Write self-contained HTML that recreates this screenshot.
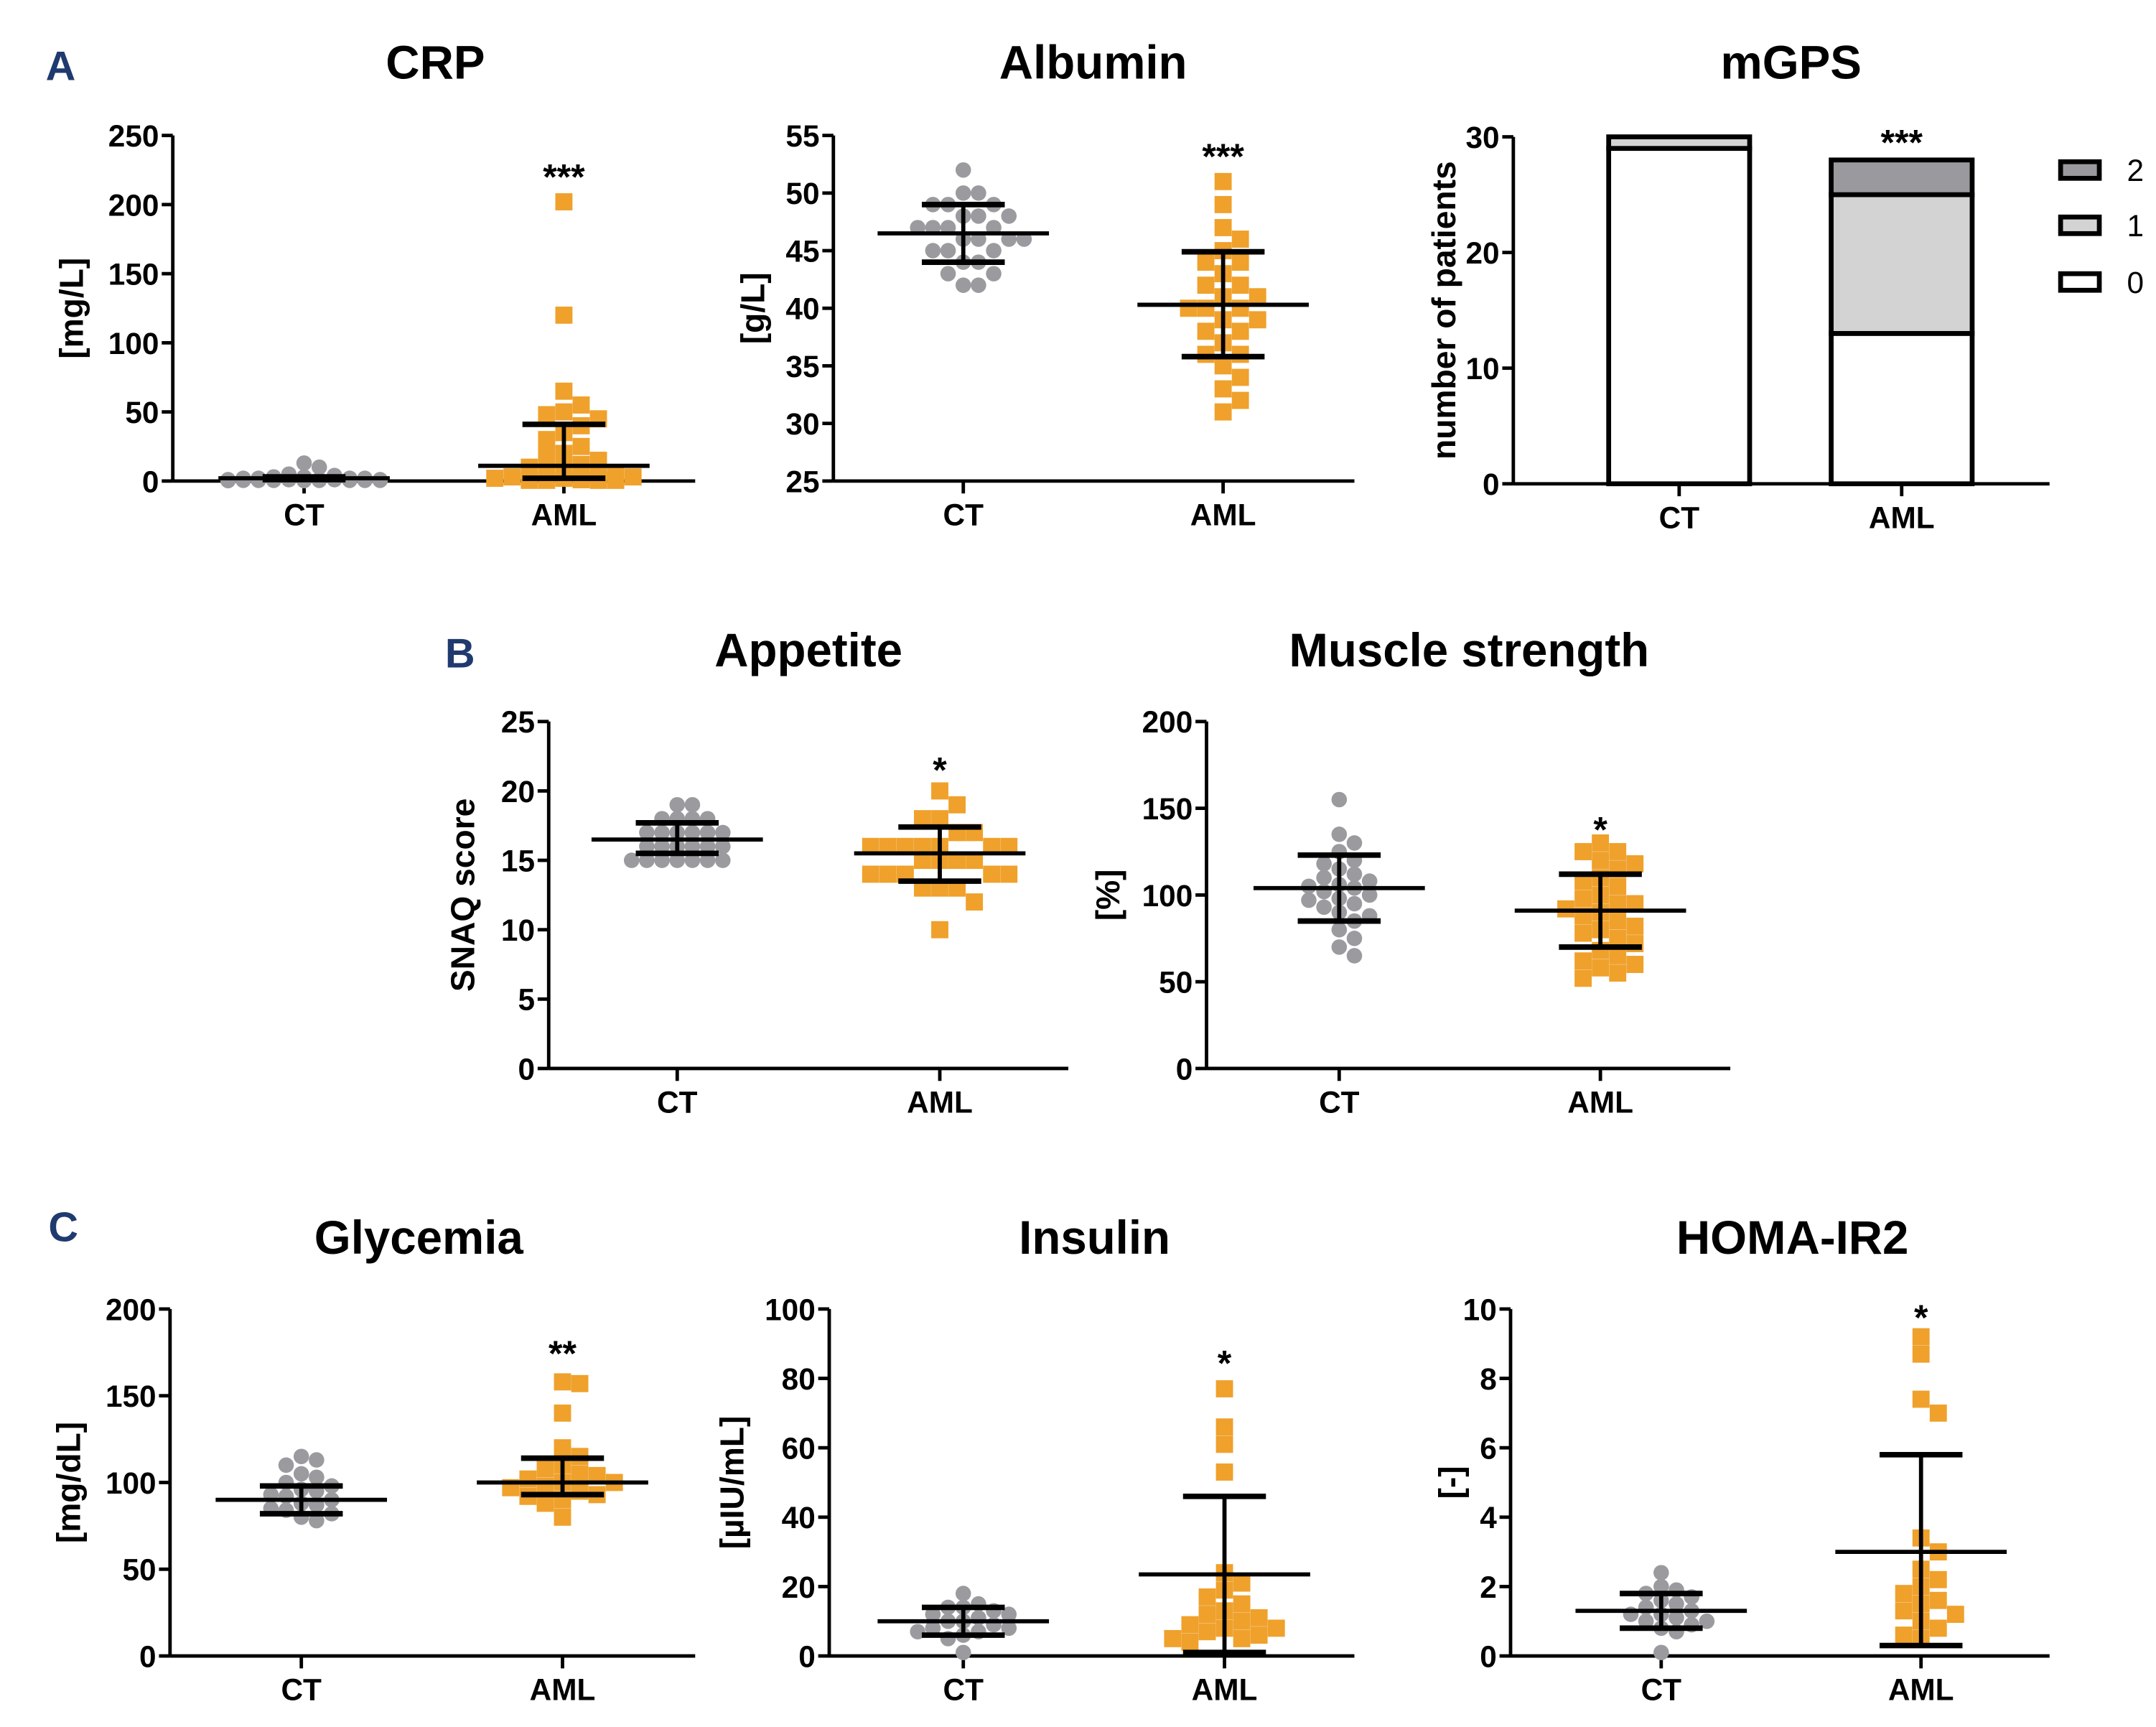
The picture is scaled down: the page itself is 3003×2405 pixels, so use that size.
<!DOCTYPE html>
<html><head><meta charset="utf-8">
<style>
html,body{margin:0;padding:0;background:#fff;}
svg{display:block;font-family:"Liberation Sans",Arial,sans-serif;}
</style></head>
<body>
<svg id="fig" width="3003" height="2405" viewBox="0 0 1560 1249.4" xmlns="http://www.w3.org/2000/svg"></svg>
<script>
// ---- data ----
const categories = ["CT", "AML"];
const crpCT = [13,10,5,4,3,3,2,2,2,2,1,1,1,1,1,1,0.5,0.5,0.5,0.5,0.5,0.5,0.5,0.3,0.3];
const crpAML = [202,120,65,55,50,48,45,40,35,30,25,20,18,15,12,10,8,5,5,4,3,3,2,2,1,1,0.5,0.5,0.5,0.5];
const crpBars = [[2,1,3],[11,2,41]];
const albCT = [52,50,50,49,49,49,48,48,48,47,47,47,47,46,46,46,46,45,45,45,44,44,43,43,42,42];
const albAML = [51,49,47,46,45,44,44,43,42,42,41,41,40,40,40,39,39,38,38,37,36,36,35,34,33,32,31];
const albBars = [[46.5,44,49],[40.3,35.8,44.9]];
const mgpsScores = ["0","1","2"];
const mgpsCT = [29,1,0];
const mgpsAML = [13,12,3];
const appCT = [19,19,18,18,18,18,17,17,17,17,17,17,16,16,16,16,16,16,15,15,15,15,15,15,15];
const appAML = [20,19,18,18,17,17,16,16,16,16,16,16,16,15,15,15,15,15,14,14,14,14,14,13,13,13,12,10];
const appBars = [[16.5,15.5,17.7],[15.5,13.5,17.4]];
const musCT = [155,135,130,125,120,118,115,112,110,108,106,105,104,102,100,98,97,95,93,90,88,85,80,75,70,65];
const musAML = [130,125,125,120,118,115,110,108,105,100,98,95,95,92,90,88,85,82,80,78,75,72,68,65,62,60,58,55,52];
const musBars = [[104,85,123],[91,70,112]];
const gluCT = [115,113,110,105,103,100,98,96,95,93,92,90,88,87,85,84,82,80,78];
const gluAML = [158,157,140,120,115,110,108,105,104,102,100,100,98,97,95,93,92,90,88,80];
const gluBars = [[90,82,98],[100,93,114]];
const insCT = [18,15,14,14,13,12,12,11,10,10,9,8,8,7,7,6,5,1];
const insAML = [77,66,61,53,24,21,19,17,15,13,12,11,10,9,8,8,7,6,5,5,4];
const insBars = [[10,6,14],[23.5,1,46]];
const homaCT = [2.4,2.0,1.9,1.8,1.7,1.6,1.5,1.4,1.3,1.2,1.2,1.1,1.0,1.0,0.9,0.8,0.7,0.1];
const homaAML = [9.2,8.7,7.4,7.0,3.4,3.0,2.5,2.2,2.0,1.8,1.6,1.5,1.3,1.2,1.0,0.8,0.6,0.5];
const homaBars = [[1.3,0.8,1.8],[3.0,0.3,5.8]];

// ---- drawing ----
const NS = "http://www.w3.org/2000/svg";
const svg = document.getElementById("fig");
function el(tag, attrs, parent, text){
  const e = document.createElementNS(NS, tag);
  for (const k in attrs) e.setAttribute(k, attrs[k]);
  if (text !== undefined) e.textContent = text;
  (parent || svg).appendChild(e);
  return e;
}
const ORANGE = "#efa12c", GRAY = "#9b9a9f";

function axes(p){
  const g = el("g", {});
  
  
  const y = v => p.y1 - (v - p.ymin) / (p.ymax - p.ymin) * (p.y1 - p.y0);
  const t = el("text", {x:p.tx, y:p.ty, "font-size":34, "font-weight":"bold", "text-anchor":"middle"}, g, p.title);
  
  
  const ya = el("line", {x1:p.ax, y1:p.y0, x2:p.ax, y2:p.y1, stroke:"#000", "stroke-width":2.5}, g);
  
  
  const xa = el("line", {x1:p.ax, y1:p.y1, x2:p.xend, y2:p.y1, stroke:"#000", "stroke-width":2.5}, g);
  
  
  for (let v = p.ymin; v <= p.ymax + 1e-9; v += p.step){
    const yy = y(v);
    el("line", {x1:p.ax-8, y1:yy, x2:p.ax, y2:yy, stroke:"#000", "stroke-width":2.5}, g);
    const tl = el("text", {x:p.ax-10, y:yy+8, "font-size":22, "font-weight":"bold", "text-anchor":"end"}, g, String(v));
    
    
  }
  p.cx.forEach((cx, i) => {
    el("line", {x1:cx, y1:p.y1, x2:cx, y2:p.y1+9, stroke:"#000", "stroke-width":2.5}, g);
    const cl = el("text", {x:cx, y:p.y1+32, "font-size":22, "font-weight":"bold", "text-anchor":"middle"}, g, categories[i]);
    
    
  });
  const yt = el("text", {x:0, y:0, "font-size":24, "font-weight":"bold", "text-anchor":"middle",
    transform:`translate(${p.ylx},${(p.y0+p.y1)/2}) rotate(-90)`}, g, p.ylabel);
  
  
  return {g, y};
}

function swarm(values, cx, y, size, maxSpread){
  const placed = [];
  const step = size * 1.0;
  const nMax = Math.floor(maxSpread / step);
  const cands = [0];
  for (let k = 1; k <= nMax; k++){ cands.push(k*step); cands.push(-k*step); }
  values.forEach(v => {
    const yy = y(v);
    let best = 0, bestCount = Infinity;
    for (const off of cands){
      const c = placed.filter(q => Math.abs(q[0]-(cx+off)) < size*0.95 && Math.abs(q[1]-yy) < size*0.85).length;
      if (c < bestCount){ bestCount = c; best = off; }
      if (c === 0) break;
    }
    placed.push([cx+best, yy]);
  });
  return placed;
}

function dotPlot(p, ct, aml, bars, star){
  const {g, y} = axes(p);
  swarm(ct, p.cx[0], y, 11, p.spread || 62).forEach(([x, yy]) => {
    const c = el("circle", {cx:x, cy:yy, r:5.6, fill:GRAY}, g);
    
    
  });
  swarm(aml, p.cx[1], y, 12.5, p.spread || 62).forEach(([x, yy]) => {
    const r = el("rect", {x:x-6.2, y:yy-6.2, width:12.4, height:12.4, fill:ORANGE}, g);
    
    
  });
  bars.forEach((b, i) => {
    const cx = p.cx[i];
    const eg = el("g", {stroke:"#000", "stroke-width":3}, g);
    
    
    el("line", {x1:cx-62, y1:y(b[0]), x2:cx+62, y2:y(b[0])}, eg);
    el("line", {x1:cx, y1:y(b[1]), x2:cx, y2:y(b[2])}, eg);
    el("line", {x1:cx-30, y1:y(b[1]), x2:cx+30, y2:y(b[1]), "stroke-width":4}, eg);
    el("line", {x1:cx-30, y1:y(b[2]), x2:cx+30, y2:y(b[2]), "stroke-width":4}, eg);
  });
  const s = el("text", {x:p.cx[1], y:p.starY, "font-size":26, "font-weight":"bold", "text-anchor":"middle"}, g, star);
  
  
}

function panelLetter(t, x, y){
  const e = el("text", {x, y, "font-size":30, "font-weight":"bold", fill:"#1f3a6e"}, svg, t);
  
  
}
panelLetter("A", 33, 58);
panelLetter("B", 322, 483);
panelLetter("C", 35, 898);

dotPlot({name:"crp", title:"CRP", tx:315, ty:57, ax:125, xend:503, y0:98, y1:348, ymin:0, ymax:250, step:50,
  cx:[220,408], ylabel:"[mg/L]", ylx:60, starY:137}, crpCT, crpAML, crpBars, "***");
dotPlot({name:"albumin", title:"Albumin", tx:791, ty:57, ax:603, xend:980, y0:98, y1:348, ymin:25, ymax:55, step:5,
  cx:[697,885], ylabel:"[g/L]", ylx:553, starY:122}, albCT, albAML, albBars, "***");
dotPlot({name:"appetite", title:"Appetite", tx:585, ty:482, ax:397, xend:773, y0:522, y1:773, ymin:0, ymax:25, step:5,
  cx:[490,680], ylabel:"SNAQ score", ylx:343, starY:566}, appCT, appAML, appBars, "*");
dotPlot({name:"muscle-strength", title:"Muscle strength", tx:1063, ty:482, ax:873, xend:1252, y0:522, y1:773, ymin:0, ymax:200, step:50,
  cx:[969,1158], ylabel:"[%]", ylx:810, starY:609}, musCT, musAML, musBars, "*");
dotPlot({name:"glycemia", title:"Glycemia", tx:303, ty:907, ax:123, xend:503, y0:947, y1:1198, ymin:0, ymax:200, step:50,
  cx:[218,407], ylabel:"[mg/dL]", ylx:58, starY:988}, gluCT, gluAML, gluBars, "**");
dotPlot({name:"insulin", title:"Insulin", tx:792, ty:907, ax:600, xend:980, y0:947, y1:1198, ymin:0, ymax:100, step:20,
  cx:[697,886], ylabel:"[µIU/mL]", ylx:538, starY:995}, insCT, insAML, insBars, "*");
dotPlot({name:"homa-ir2", title:"HOMA-IR2", tx:1297, ty:907, ax:1093, xend:1483, y0:947, y1:1198, ymin:0, ymax:10, step:2,
  cx:[1202,1390], ylabel:"[-]", ylx:1058, starY:962}, homaCT, homaAML, homaBars, "*");

// mGPS stacked bar
(function(){
  const p = {name:"mgps", title:"mGPS", tx:1296, ty:57, ax:1095, xend:1483, y0:99, y1:350, ymin:0, ymax:30, step:10,
    cx:[1215,1376], ylabel:"number of patients", ylx:1053};
  const {g, y} = axes(p);
  const fills = ["#ffffff", "#d3d3d3", "#9a999e"];
  [mgpsCT, mgpsAML].forEach((arr, i) => {
    let base = 0;
    const cx = p.cx[i];
    arr.forEach((v, k) => {
      if (v <= 0) return;
      const r = el("rect", {x:cx-51, y:y(base+v), width:102, height:y(base)-y(base+v), fill:fills[k], stroke:"#000", "stroke-width":3.5}, g);
      
      
      base += v;
    });
  });
  const s = el("text", {x:p.cx[1], y:112, "font-size":26, "font-weight":"bold", "text-anchor":"middle"}, g, "***");
  
  
  const ly = [123, 163, 204];
  [2,1,0].forEach((k, j) => {
    const lg = el("g", {}, g);
    
    
    el("rect", {x:1491, y:ly[j]-6, width:28, height:12, fill:fills[k], stroke:"#000", "stroke-width":3.5}, lg);
    el("text", {x:1539, y:ly[j]+8, "font-size":22}, lg, mgpsScores[k]);
  });
})();
</script>
</body></html>
